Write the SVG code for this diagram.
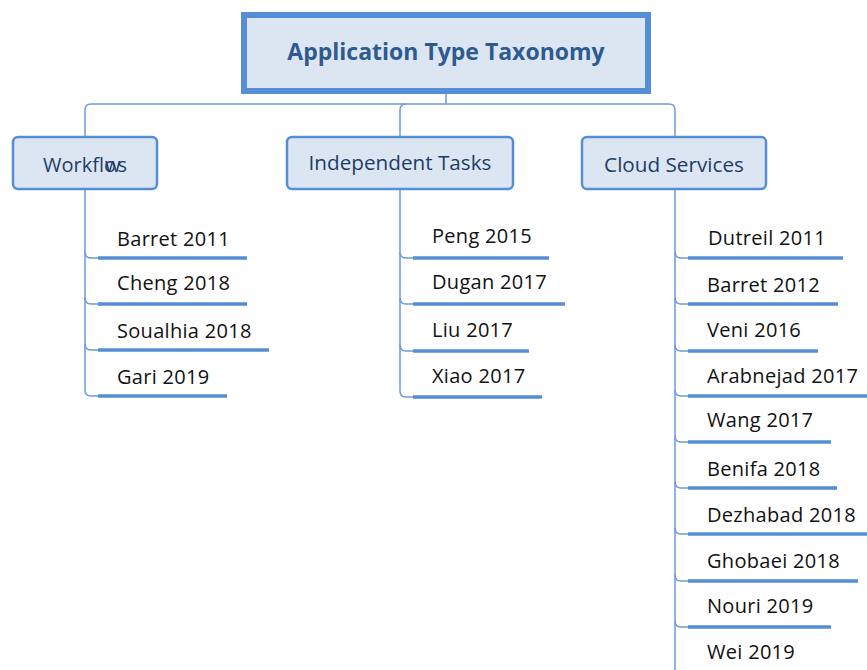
<svg xmlns="http://www.w3.org/2000/svg" width="867" height="670" viewBox="0 0 867 670">
<style>
.conn{fill:none;stroke:#6b9bd9;stroke-width:1.5}
.ul{stroke:#558ed5;stroke-width:3.5;fill:none}
.cat{fill:#dce6f2;stroke:#558ed5;stroke-width:2.5}
.cattxt{font-family:"Open Sans","Noto Sans",sans-serif;font-size:20.7px;fill:#1f3d66;text-anchor:middle}
.leaf{font-family:"Open Sans","Noto Sans",sans-serif;font-size:20px;letter-spacing:0.3px;fill:#111111}
.title{font-family:"Open Sans","Noto Sans",sans-serif;font-size:23px;font-weight:bold;fill:#2f5a8f;text-anchor:middle}
</style>
<rect width="867" height="670" fill="#ffffff"/>
<g id="connectors">
<path class="conn" d="M446,94 V104"/>
<path class="conn" d="M85,137 V110 Q85,104 91,104 H669 Q675,104 675,110 V137"/>
<path class="conn" d="M400,137 V110 Q400,104 406,104"/>
<path class="conn" d="M85,189 V390 Q85,396 91,396 H98"/>
<path class="conn" d="M85,252 Q85,258 91,258 H98 M85,298 Q85,304 91,304 H98 M85,344 Q85,350 91,350 H98"/>
<path class="conn" d="M400,189 V391 Q400,397 406,397 H413"/>
<path class="conn" d="M400,252 Q400,258 406,258 H413 M400,298 Q400,304 406,304 H413 M400,345 Q400,351 406,351 H413"/>
<path class="conn" d="M675,189 V670"/>
<path class="conn" d="M675,252 Q675,258 681,258 H688 M675,298 Q675,304 681,304 H688 M675,345 Q675,351 681,351 H688 M675,390 Q675,396 681,396 H688 M675,436 Q675,442 681,442 H688 M675,482 Q675,488 681,488 H688 M675,528 Q675,534 681,534 H688 M675,575 Q675,581 681,581 H688 M675,621 Q675,627 681,627 H688"/>
</g>
<g id="root">
<rect x="244" y="15" width="404" height="76" fill="#dce6f2" stroke="#558ed5" stroke-width="6"/>
<text class="title" x="446" y="60">Application Type Taxonomy</text>
</g>
<g id="workflows">
<rect class="cat" x="13" y="137" width="144" height="52" rx="5"/>
<text class="cattxt" x="43" y="172" style="text-anchor:start;font-size:20px" dx="0 0 0 0 0 0 0 -11 -3">Workflows</text>
</g>
<g id="independent">
<rect class="cat" x="287" y="137" width="226" height="52" rx="5"/>
<text class="cattxt" x="400" y="170">Independent Tasks</text>
</g>
<g id="cloud">
<rect class="cat" x="582" y="137" width="184" height="52" rx="5"/>
<text class="cattxt" x="674" y="172">Cloud Services</text>
</g>
<g id="wf-leaves">
<g id="barret2011"><text class="leaf" x="117" y="246">Barret 2011</text><path class="ul" d="M98,258 H247"/></g>
<g id="cheng2018"><text class="leaf" x="117" y="290">Cheng 2018</text><path class="ul" d="M98,304 H247"/></g>
<g id="soualhia2018"><text class="leaf" x="117" y="338">Soualhia 2018</text><path class="ul" d="M98,350 H269"/></g>
<g id="gari2019"><text class="leaf" x="117" y="384">Gari 2019</text><path class="ul" d="M98,396 H227"/></g>
</g>
<g id="it-leaves">
<g id="peng2015"><text class="leaf" x="432" y="243">Peng 2015</text><path class="ul" d="M413,258 H549"/></g>
<g id="dugan2017"><text class="leaf" x="432" y="289">Dugan 2017</text><path class="ul" d="M413,304 H565"/></g>
<g id="liu2017"><text class="leaf" x="432" y="337">Liu 2017</text><path class="ul" d="M413,351 H529"/></g>
<g id="xiao2017"><text class="leaf" x="432" y="383">Xiao 2017</text><path class="ul" d="M413,397 H542"/></g>
</g>
<g id="cs-leaves">
<g id="dutreil2011"><text class="leaf" x="708" y="245">Dutreil 2011</text><path class="ul" d="M688,258 H843"/></g>
<g id="barret2012"><text class="leaf" x="707" y="292">Barret 2012</text><path class="ul" d="M688,304 H838"/></g>
<g id="veni2016"><text class="leaf" x="707" y="337">Veni 2016</text><path class="ul" d="M688,351 H818"/></g>
<g id="arabnejad2017"><text class="leaf" x="707" y="383">Arabnejad 2017</text><path class="ul" d="M688,396 H867"/></g>
<g id="wang2017"><text class="leaf" x="707" y="427">Wang 2017</text><path class="ul" d="M688,442 H831"/></g>
<g id="benifa2018"><text class="leaf" x="707" y="476">Benifa 2018</text><path class="ul" d="M688,488 H837"/></g>
<g id="dezhabad2018"><text class="leaf" x="707" y="522">Dezhabad 2018</text><path class="ul" d="M688,534 H867"/></g>
<g id="ghobaei2018"><text class="leaf" x="707" y="568">Ghobaei 2018</text><path class="ul" d="M688,581 H858"/></g>
<g id="nouri2019"><text class="leaf" x="707" y="613">Nouri 2019</text><path class="ul" d="M688,627 H831"/></g>
<g id="wei2019"><text class="leaf" x="707" y="659">Wei 2019</text></g>
</g>
</svg>
